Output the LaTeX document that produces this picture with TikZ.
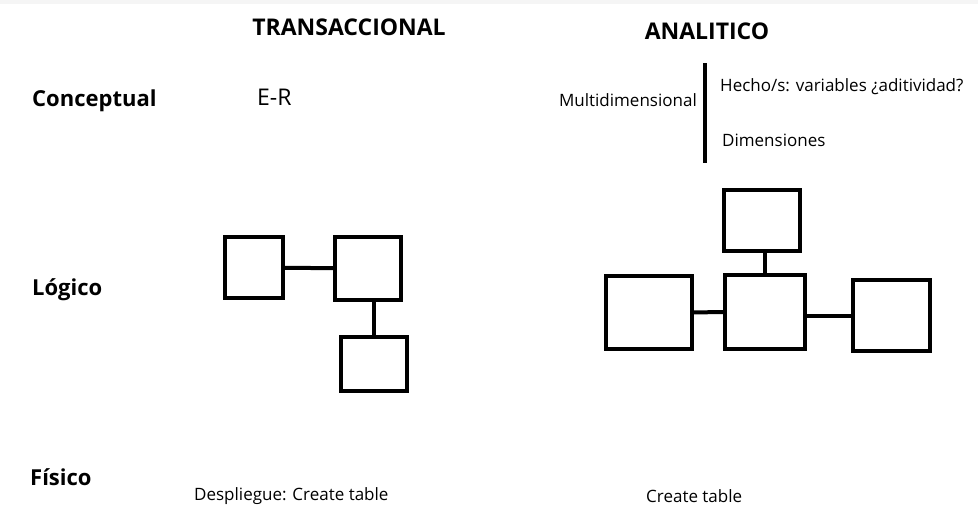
\documentclass[tikz,border=0pt]{standalone}
\usepackage{fontspec}
\setmainfont{Open Sans}
\begin{document}
\begin{tikzpicture}[x=1pt,y=-1pt,
  box/.style={draw=black,line width=4pt,inner sep=0pt,minimum width=#1},
  link/.style={draw=black,line width=4pt},
  head/.style={font=\fontsize{23}{27}\selectfont\bfseries,inner sep=0pt},
  rowhead/.style={font=\fontsize{22}{26}\selectfont\bfseries,inner sep=0pt,anchor=west},
  big/.style={font=\fontsize{23}{27}\selectfont,inner sep=0pt},
  txt/.style={font=\fontsize{17}{20}\selectfont,inner sep=0pt}]
\useasboundingbox (0,0) rectangle (978,522);
\fill[gray!8] (0,0) rectangle (978,4);
% headers
\node[head] (trans) at (349,27) {TRANSACCIONAL};
\node[head] (anal) at (707,31) {ANALITICO};
\node[rowhead] (conc) at (32,101) {Conceptual};
\node[rowhead] (logi) at (32,290) {Lógico};
\node[rowhead] (fisi) at (30,477) {Físico};
% texts
\node[big,anchor=west] (er) at (257,97) {E-R};
\node[txt,anchor=east] (multi) at (697,100) {Multidimensional};
\node[txt,anchor=west] (hecho) at (720,87) {Hecho/s: variables ¿aditividad?};
\node[txt,anchor=west] (dims) at (722,140) {Dimensiones};
\coordinate (bartop) at (705,63);
\coordinate (barbot) at (705,163);
\draw[link] (bartop) -- (barbot);
\node[txt,anchor=west] (desp) at (194,496) {Despliegue: Create table};
\node[txt,anchor=west] (ct) at (646,496) {Create table};
% transaccional boxes
\node[box=58pt,minimum height=61pt] (A) at (254,267.5) {};
\node[box=66pt,minimum height=63pt] (B) at (368,268.5) {};
\node[box=66pt,minimum height=54pt] (C) at (374,364) {};
\draw[link] (A) -- (B);
\draw[link] (B.south -| C.north) -- (C.north);
% analitico boxes
\node[box=76pt,minimum height=61pt] (T) at (762,220.5) {};
\node[box=80pt,minimum height=74pt] (M) at (765,312) {};
\node[box=86pt,minimum height=73pt] (L) at (649,312.5) {};
\node[box=77pt,minimum height=71pt] (R) at (891.5,315.5) {};
\draw[link] (T.south -| M.north) -- (M.north);
\draw[link] (L) -- (M);
\draw[link] (M.east |- R.west) -- (R.west);
\end{tikzpicture}
\end{document}
